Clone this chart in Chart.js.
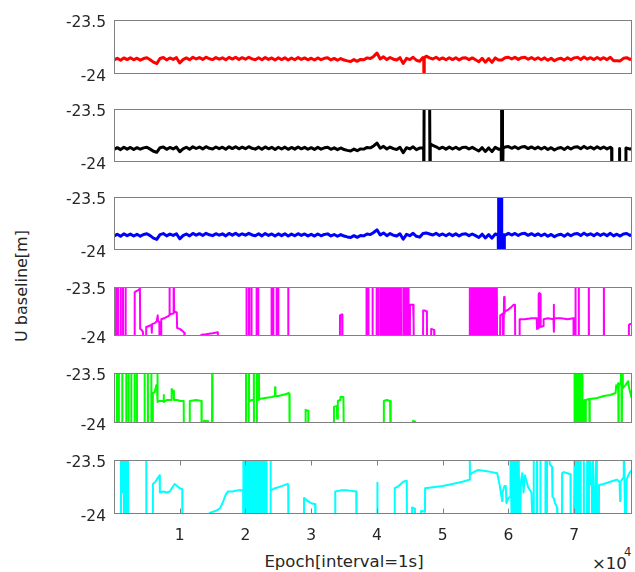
<!DOCTYPE html>
<html>
<head>
<meta charset="utf-8">
<script src="https://cdn.jsdelivr.net/npm/chart.js@4.4.1/dist/chart.umd.min.js"></script>
<style>
  html, body { margin: 0; padding: 0; background: #fff; }
  #fig { position: relative; width: 635px; height: 572px; overflow: hidden; font-family: "DejaVu Sans", sans-serif; color: #262626; }
  #fig canvas { position: absolute; left: 0; }
  .lbl { position: absolute; white-space: nowrap; line-height: 1; }
</style>
</head>
<body>
<div id="fig">
  <div class="lbl" id="ylab" style="left:22px;top:286px;font-size:16px;transform:translate(-50%,-50%) rotate(-90deg);">U baseline[m]</div>
  <div class="lbl" id="xlab" style="left:344px;top:562px;font-size:16.5px;transform:translate(-50%,-50%);">Epoch[interval=1s]</div>
  <div class="lbl" style="left:592px;top:556px;font-size:16.5px;">×10</div>
  <div class="lbl" style="left:624px;top:547px;font-size:11.5px;">4</div>
</div>
<script>
// x axis: epochs, shared by all six panels
const X_MIN = 0, X_MAX = 78800;
const X_TICKS = [10000, 20000, 30000, 40000, 50000, 60000, 70000];
const X_TICK_LABELS = ['1', '2', '3', '4', '5', '6', '7'];
const Y_TICKS = [-24, -23.5];
const Y_TICK_LABELS = ['-24', '-23.5'];

// epoch grid used by the three continuous solutions
const EPOCH_GRID = [
  0, 500, 1000, 1500, 2000, 2500, 3000, 3500, 4000, 4500,
  5000, 5500, 6000, 6500, 7000, 7500, 8000, 8500, 9000, 9500,
  10000, 10500, 11000, 11500, 12000, 12500, 13000, 13500, 14000, 14500,
  15000, 15500, 16000, 16500, 17000, 17500, 18000, 18500, 19000, 19500,
  20000, 20500, 21000, 21500, 22000, 22500, 23000, 23500, 24000, 24500,
  25000, 25500, 26000, 26500, 27000, 27500, 28000, 28500, 29000, 29500,
  30000, 30500, 31000, 31500, 32000, 32500, 33000, 33500, 34000, 34500,
  35000, 35500, 36000, 36500, 37000, 37500, 38000, 38500, 39000, 39500,
  40000, 40500, 41000, 41500, 42000, 42500, 43000, 43500, 44000, 44500,
  45000, 45500, 46000, 46500, 47000, 47500, 48000, 48500, 49000, 49500,
  50000, 50500, 51000, 51500, 52000, 52500, 53000, 53500, 54000, 54500,
  55000, 55500, 56000, 56500, 57000, 57500, 58000, 58500, 59000, 59500,
  60000, 60500, 61000, 61500, 62000, 62500, 63000, 63500, 64000, 64500,
  65000, 65500, 66000, 66500, 67000, 67500, 68000, 68500, 69000, 69500,
  70000, 70500, 71000, 71500, 72000, 72500, 73000, 73500, 74000, 74500,
  75000, 75500, 76000, 76500, 77000, 77500, 78000, 78500
];

// panel 1 (red)
const RED_U = [
  -23.872, -23.856, -23.874, -23.852, -23.868, -23.850, -23.870, -23.855, -23.873, -23.858,
  -23.851, -23.869, -23.892, -23.905, -23.858, -23.848, -23.871, -23.853, -23.866, -23.850,
  -23.900, -23.868, -23.852, -23.870, -23.846, -23.862, -23.849, -23.866, -23.845, -23.860,
  -23.868, -23.849, -23.864, -23.851, -23.870, -23.847, -23.863, -23.846, -23.866, -23.850,
  -23.864, -23.846, -23.861, -23.869, -23.850, -23.870, -23.848, -23.866, -23.852, -23.872,
  -23.851, -23.868, -23.850, -23.871, -23.853, -23.869, -23.849, -23.866, -23.852, -23.870,
  -23.855, -23.872, -23.852, -23.869, -23.856, -23.851, -23.871, -23.857, -23.874, -23.858,
  -23.872, -23.880, -23.886, -23.868, -23.884, -23.866, -23.870, -23.852, -23.858, -23.838,
  -23.806, -23.862, -23.842, -23.868, -23.848, -23.864, -23.872, -23.850, -23.904, -23.856,
  -23.868, -23.846, -23.874, -23.884, -23.848, -23.836, -23.852, -23.862, -23.846, -23.866,
  -23.852, -23.869, -23.850, -23.868, -23.851, -23.871, -23.854, -23.850, -23.868, -23.852,
  -23.870, -23.888, -23.856, -23.892, -23.858, -23.894, -23.852, -23.872, -23.872, -23.850,
  -23.846, -23.862, -23.847, -23.866, -23.850, -23.846, -23.865, -23.849, -23.867, -23.851,
  -23.869, -23.852, -23.874, -23.856, -23.878, -23.862, -23.855, -23.873, -23.851, -23.869,
  -23.852, -23.847, -23.867, -23.844, -23.864, -23.850, -23.868, -23.848, -23.866, -23.850,
  -23.868, -23.846, -23.878, -23.879, -23.880, -23.856, -23.850, -23.866
];
const RED_EXTRA_X = [47120, 47160, 47200, 78800];
const RED_EXTRA_U = [-23.858, -24.2, -23.850, -23.860];

// panel 2 (black)
const BLACK_U = [
  -23.882, -23.866, -23.885, -23.862, -23.880, -23.864, -23.884, -23.866, -23.881, -23.868,
  -23.862, -23.880, -23.900, -23.910, -23.866, -23.860, -23.882, -23.864, -23.878, -23.861,
  -23.905, -23.878, -23.862, -23.881, -23.858, -23.874, -23.860, -23.878, -23.857, -23.872,
  -23.879, -23.860, -23.876, -23.862, -23.881, -23.858, -23.875, -23.857, -23.877, -23.861,
  -23.876, -23.857, -23.872, -23.880, -23.861, -23.882, -23.859, -23.877, -23.863, -23.883,
  -23.862, -23.879, -23.861, -23.882, -23.864, -23.880, -23.860, -23.877, -23.863, -23.881,
  -23.866, -23.883, -23.863, -23.880, -23.867, -23.862, -23.882, -23.868, -23.885, -23.869,
  -23.884, -23.892, -23.898, -23.880, -23.895, -23.878, -23.880, -23.864, -23.868, -23.850,
  -23.822, -23.872, -23.854, -23.879, -23.860, -23.875, -23.883, -23.862, -23.915, -23.866,
  -23.878, -23.858, -23.885, -23.870, -23.870, -23.2, -23.2, -23.845, -23.858, -23.876,
  -23.862, -23.880, -23.861, -23.879, -23.862, -23.882, -23.865, -23.861, -23.879, -23.863,
  -23.881, -23.898, -23.866, -23.902, -23.868, -23.904, -23.862, -23.882, -23.2, -23.860,
  -23.856, -23.872, -23.857, -23.876, -23.860, -23.856, -23.875, -23.859, -23.877, -23.861,
  -23.879, -23.862, -23.884, -23.866, -23.888, -23.872, -23.865, -23.883, -23.861, -23.879,
  -23.862, -23.857, -23.877, -23.854, -23.874, -23.860, -23.878, -23.858, -23.876, -23.860,
  -23.878, -23.862, -24.3, -24.3, -24.3, -24.3, -23.870, -23.880
];
const BLACK_EXTRA_X = [47100, 47140, 47180, 48060, 48080, 48110, 58900, 58930, 58960, 59030, 59060, 59090,
  59120, 59150, 59180, 75700, 75740, 76870, 76900, 76930, 77850, 77880, 78800];
const BLACK_EXTRA_U = [-23.870, -24.3, -23.2, -23.2, -24.3, -23.83, -23.875, -24.3, -23.2, -24.3, -23.2, -24.3,
  -23.2, -24.3, -23.870, -23.872, -24.3, -24.3, -23.875, -24.3, -24.3, -23.870, -23.872];

// panel 3 (blue)
const BLUE_U = [
  -23.870, -23.852, -23.872, -23.849, -23.866, -23.851, -23.869, -23.853, -23.871, -23.855,
  -23.848, -23.866, -23.890, -23.902, -23.856, -23.846, -23.868, -23.851, -23.864, -23.848,
  -23.896, -23.866, -23.850, -23.868, -23.845, -23.861, -23.847, -23.864, -23.844, -23.858,
  -23.866, -23.847, -23.862, -23.849, -23.868, -23.845, -23.861, -23.844, -23.864, -23.848,
  -23.862, -23.844, -23.859, -23.867, -23.848, -23.868, -23.846, -23.864, -23.850, -23.870,
  -23.849, -23.866, -23.848, -23.869, -23.851, -23.867, -23.847, -23.864, -23.850, -23.868,
  -23.853, -23.870, -23.850, -23.867, -23.854, -23.849, -23.869, -23.855, -23.872, -23.856,
  -23.870, -23.878, -23.884, -23.866, -23.882, -23.864, -23.868, -23.850, -23.856, -23.836,
  -23.810, -23.860, -23.840, -23.866, -23.846, -23.862, -23.870, -23.848, -23.900, -23.854,
  -23.866, -23.844, -23.872, -23.880, -23.846, -23.840, -23.850, -23.860, -23.844, -23.864,
  -23.850, -23.867, -23.848, -23.866, -23.849, -23.869, -23.852, -23.848, -23.866, -23.850,
  -23.866, -23.884, -23.852, -23.888, -23.856, -23.890, -23.850, -23.2, -24.3, -23.862,
  -23.844, -23.860, -23.845, -23.864, -23.848, -23.844, -23.863, -23.847, -23.865, -23.849,
  -23.867, -23.850, -23.872, -23.854, -23.876, -23.860, -23.853, -23.871, -23.849, -23.867,
  -23.850, -23.845, -23.865, -23.842, -23.862, -23.848, -23.866, -23.846, -23.864, -23.848,
  -23.866, -23.844, -23.868, -23.852, -23.870, -23.850, -23.846, -23.864
];
const BLUE_EXTRA_X = [58450, 58480, 58560, 58620, 58680, 58740, 58800, 58860, 58920, 58960,
  59040, 59300, 59340, 59380, 78800];
const BLUE_EXTRA_U = [-23.860, -24.3, -24.3, -23.2, -24.3, -23.2, -24.3, -23.2, -24.3, -23.2,
  -23.850, -23.868, -24.1, -23.858, -23.856];

// panel 4 (magenta)
const MAG_X = [
  0, 300, 335, 380, 560, 590, 640, 960,
  990, 1040, 1320, 1350, 1400, 1720, 1750, 1800,
  3100, 3150, 3400, 3700, 3850, 3890, 3950, 3980,
  4200, 4400, 4500, 4880, 4900, 5300, 5700, 5750,
  5800, 6200, 6500, 6650, 6700, 6900, 6940, 7170,
  7190, 7600, 7900, 8200, 8400, 8440, 8480, 9000,
  9040, 9100, 9150, 9550, 9600, 10000, 10400, 10700,
  10750, 13250, 13290, 14000, 14500, 15000, 15800, 15850,
  20120, 20150, 20180, 20520, 20550, 20580,
  20880, 20910, 20940, 21650, 21680, 21710,
  21890, 21920, 21950, 23930, 23960, 23990,
  24180, 24210, 24240, 24700, 24730, 24760,
  24940, 24970, 25000, 26470, 26500, 26530,
  34350, 34380, 34700, 34750,
  38370, 38400, 38430, 38670, 38700, 38730, 39300, 39330, 39360,
  39910, 39940, 39970, 40220, 40250, 40280, 40570, 40600, 40630,
  40820, 40850, 40900, 41100, 41130, 41160, 41300, 41330, 41360,
  41520, 41550, 41600, 41780, 41800, 41830, 41970, 42000, 42030,
  42220, 42250, 42300, 42480, 42500, 42530, 42670, 42700, 42730,
  42920, 42950, 43000, 43170, 43200, 43230, 43420, 43450, 43480,
  43610, 43640, 43670, 43970, 44000, 44030, 44240, 44270, 44300,
  44510, 44540, 44570, 44760, 44790, 44820,
  45000, 45030, 45500, 45550, 45600, 45650,
  47000, 47030, 47300, 47600, 47640, 48230, 48250, 48700, 48730,
  54100, 54130, 54160, 54420, 54450, 54480, 54700, 54730, 54760,
  54900, 54930, 54960, 55150, 55180, 55210, 55400, 55430, 55460,
  55650, 55680, 55710, 55900, 55930, 55960, 56100, 56130, 56160,
  56300, 56330, 56360, 56500, 56530, 56560, 56700, 56730, 56760,
  56900, 56930, 56960, 57100, 57130, 57160, 57300, 57330, 57360,
  57500, 57530, 57560, 57700, 57730, 57760, 57900, 57930, 57960,
  58100, 58130, 58160, 58230, 58260, 58290,
  58700, 58760, 59000, 59150, 59200, 59300, 59340, 59400, 59450,
  60000, 60500, 60800, 61000, 61050, 61680, 61710, 62500, 63500,
  64300, 64350, 64550, 64600, 64700, 64860, 64900, 65300, 65350,
  66000, 66850, 66900, 66930, 66970, 68000, 69000, 69900, 69940,
  70170, 70200, 70230, 70670, 70700, 70730, 72200, 72230, 72260,
  74490, 74520, 74550, 78300, 78330, 78500, 78800
];
const MAG_U = [
  -24.3, -24.3, -23.2, -24.3, -24.3, -23.2, -24.3, -24.3,
  -23.2, -24.3, -24.3, -23.2, -24.3, -24.3, -23.2, -24.3,
  -24.3, -23.55, -23.54, -23.53, -23.52, -23.2, -23.2, -23.93,
  -23.94, -23.96, -24.3, -24.3, -23.91, -23.90, -23.89, -23.97,
  -23.88, -23.87, -23.85, -23.79, -23.85, -23.86, -24.3, -24.3,
  -23.83, -23.82, -23.81, -23.80, -23.79, -23.2, -23.78, -23.77,
  -23.2, -23.2, -23.75, -23.76, -23.92, -23.93, -23.95, -23.97,
  -24.3, -24.3, -23.99, -23.985, -23.98, -23.975, -23.965, -24.3,
  -24.3, -23.2, -24.3, -24.3, -23.2, -24.3,
  -24.3, -23.2, -24.3, -24.3, -23.2, -24.3,
  -24.3, -23.2, -24.3, -24.3, -23.2, -24.3,
  -24.3, -23.2, -24.3, -24.3, -23.2, -24.3,
  -24.3, -23.2, -24.3, -24.3, -23.2, -24.3,
  -24.3, -23.79, -23.78, -24.3,
  -24.3, -23.2, -24.3, -24.3, -23.2, -24.3, -24.3, -23.2, -24.3,
  -24.3, -23.2, -24.3, -24.3, -23.2, -24.3, -24.3, -23.2, -24.3,
  -24.3, -23.2, -23.82, -23.84, -23.2, -24.3, -24.3, -23.2, -24.3,
  -24.3, -23.2, -23.88, -23.90, -23.2, -24.3, -24.3, -23.2, -24.3,
  -24.3, -23.2, -23.86, -23.87, -23.2, -24.3, -24.3, -23.2, -24.3,
  -24.3, -23.2, -23.92, -23.93, -23.2, -24.3, -24.3, -23.2, -24.3,
  -24.3, -23.2, -24.3, -24.3, -23.2, -24.3, -24.3, -23.2, -24.3,
  -24.3, -23.2, -24.3, -24.3, -23.2, -24.3,
  -24.3, -23.68, -23.68, -23.83, -23.85, -24.3,
  -24.3, -23.74, -23.74, -23.75, -24.3, -24.3, -23.93, -23.94, -24.3,
  -24.3, -23.2, -24.3, -24.3, -23.2, -24.3, -24.3, -23.2, -24.3,
  -24.3, -23.2, -24.3, -24.3, -23.2, -24.3, -24.3, -23.2, -24.3,
  -24.3, -23.2, -24.3, -24.3, -23.2, -24.3, -24.3, -23.2, -24.3,
  -24.3, -23.2, -24.3, -24.3, -23.2, -24.3, -24.3, -23.2, -24.3,
  -24.3, -23.2, -24.3, -24.3, -23.2, -24.3, -24.3, -23.2, -24.3,
  -24.3, -23.2, -24.3, -24.3, -23.2, -24.3, -24.3, -23.2, -24.3,
  -24.3, -23.2, -24.3, -24.3, -23.2, -24.3,
  -24.3, -23.79, -23.78, -23.77, -24.3, -24.3, -23.6, -23.77, -23.75,
  -23.73, -23.70, -23.68, -23.68, -24.3, -24.3, -23.83, -23.83, -23.82,
  -23.82, -23.93, -23.92, -23.57, -23.56, -23.57, -23.91, -23.90, -23.83,
  -23.82, -23.83, -23.68, -23.96, -23.82, -23.82, -23.83, -23.82, -24.3,
  -24.3, -23.2, -24.3, -24.3, -23.2, -24.3, -24.3, -23.2, -24.3,
  -24.3, -23.2, -24.3, -24.3, -23.89, -23.88, -23.88
];

// panel 5 (green)
const GRN_X = [
  0, 400, 430, 460, 700, 730, 760, 1220,
  1250, 1280, 1830, 1860, 1890, 2180, 2210, 2240,
  2590, 2620, 2650, 3100, 3130, 3160, 3450, 3480, 3510,
  4620, 4650, 4680, 5120, 5150, 5180, 5640, 5670, 5700,
  5890, 5910, 6200, 6430, 6550, 6600, 6650, 6940,
  7500, 7550, 7600, 8000, 8700, 8770, 9070, 9120,
  9600, 10100, 10600, 10650, 11500, 11530, 12500, 13300,
  13340, 13650, 13670, 14300, 14330, 14900, 14940, 14990,
  20050, 20080, 20110, 20470, 20500, 20560, 21000, 21240, 21270,
  21300, 21690, 21720, 21750, 22000, 22030, 22080, 23000, 24000,
  24480, 24510, 24560, 25000, 25600, 26200, 26600, 26680, 26720,
  29130, 29150, 29550, 29570, 33440, 33460, 33900, 33950, 34050,
  34400, 34450, 34900, 34990, 41030, 41050, 41500, 42000, 42100,
  45480, 45500, 45800, 45820,
  70020, 70050, 70080, 70170, 70200, 70230, 70320, 70350, 70380,
  70470, 70500, 70530, 70620, 70650, 70680, 70770, 70800, 70830,
  70920, 70950, 70980, 71070, 71100, 71130, 71220, 71250, 71280,
  71390, 71420, 71700, 71750, 71800, 72300, 72350, 72400, 73500,
  74500, 75500, 76300, 76400, 76600, 76700, 76750, 76800, 77100,
  77150, 77250, 77300, 77400, 77800, 78200, 78400, 78700, 78800
];
const GRN_U = [
  -24.3, -24.3, -23.2, -24.3, -24.3, -23.2, -24.3, -24.3,
  -23.2, -24.3, -24.3, -23.2, -24.3, -24.3, -23.2, -24.3,
  -24.3, -23.2, -24.3, -24.3, -23.2, -24.3, -24.3, -23.2, -24.3,
  -24.3, -23.2, -24.3, -24.3, -23.2, -24.3, -24.3, -23.2, -24.3,
  -24.3, -23.70, -23.69, -23.62, -23.66, -23.2, -23.79, -23.78,
  -23.78, -23.72, -23.79, -23.77, -23.77, -23.66, -23.68, -23.77,
  -23.77, -23.78, -23.78, -24.3, -24.3, -23.78, -23.77, -23.78,
  -24.3, -24.3, -23.98, -23.985, -24.3, -24.3, -23.2, -24.3,
  -24.3, -23.2, -24.3, -24.3, -23.2, -23.78, -23.77, -23.77, -23.2,
  -24.3, -24.3, -23.2, -23.77, -23.77, -23.2, -23.76, -23.75, -23.74,
  -23.73, -23.64, -23.73, -23.73, -23.72, -23.71, -23.70, -23.71, -24.3,
  -24.3, -23.87, -23.88, -24.3, -24.3, -23.84, -23.83, -23.96, -23.78,
  -23.77, -23.74, -23.74, -24.3, -24.3, -23.78, -23.77, -23.78, -24.3,
  -24.3, -23.98, -23.99, -24.3,
  -24.3, -23.2, -24.3, -24.3, -23.2, -24.3, -24.3, -23.2, -24.3,
  -24.3, -23.2, -24.3, -24.3, -23.2, -24.3, -24.3, -23.2, -24.3,
  -24.3, -23.2, -24.3, -24.3, -23.2, -24.3, -24.3, -23.2, -24.3,
  -24.3, -23.78, -23.77, -24.3, -23.77, -23.76, -24.3, -23.76, -23.75,
  -23.73, -23.72, -23.70, -23.62, -23.64, -23.60, -24.3, -23.62, -23.60,
  -23.2, -24.3, -23.2, -23.65, -23.62, -23.58, -23.66, -23.74, -23.74
];

// panel 6 (cyan)
const CYN_X = [
  0, 1050, 1080, 1200, 1400, 1430, 1550, 1650,
  1750, 1850, 1950, 2100, 2200, 2300, 4870, 4900, 4930,
  5900, 5920, 6300, 6700, 6940, 6980, 7500, 8000, 8500,
  8700, 9220, 9600, 9980, 10380, 10400, 14540, 14560, 15500,
  16080, 16500, 17000, 17350, 18000, 18800, 19640, 19670, 19700,
  19870, 19900, 19930, 20120, 20150, 20180, 20370, 20400, 20430,
  20620, 20650, 20680, 20870, 20900, 20930, 21120, 21150, 21180,
  21370, 21400, 21430, 21620, 21650, 21680, 21870, 21900, 21930,
  22120, 22150, 22180, 22370, 22400, 22430, 22620, 22650, 22680,
  22870, 22900, 22930, 23170, 23200, 23230, 23780, 23810, 23860,
  24500, 25500, 26450, 26500, 26530, 28870, 28900, 29500, 30000,
  30600, 30650, 33630, 33660, 34500, 35500, 36850, 36900, 40030,
  40060, 40090, 42680, 42710, 43300, 44000, 44540, 44580, 45330,
  45350, 45780, 45800, 46700, 46720, 47300, 47330, 48500, 50000,
  51500, 53000, 54100, 54130, 54160, 54400, 55400, 56500, 57500,
  58300, 58700, 59050, 59100, 59400, 59600, 59700, 60000, 60290,
  60320, 60520, 60720, 60920, 61120, 61320, 61520, 61720, 61900,
  62100, 62300, 62500, 62880, 63000, 63500, 63810, 63840, 63870,
  64320, 64350, 64380, 64830, 64860, 64890, 65590, 65620, 65650,
  65850, 65880, 66300, 66640, 66700, 66890, 67100, 67410, 67450,
  68140, 68170, 68400, 69000, 69440, 69480, 69940, 70100, 70250,
  70400, 70550, 70700, 70850, 70960, 71000, 71440, 71470, 71500,
  71950, 71980, 72010, 72240, 72270, 72500, 72700, 72740, 72780,
  73100, 73400, 73460, 73750, 73780, 74500, 75500, 76500, 76900,
  77000, 77050, 77500, 77550, 77800, 78000, 78100, 78400, 78800
];
const CYN_U = [
  -24.3, -24.3, -23.2, -23.80, -23.80, -23.2, -24.3, -23.2,
  -24.3, -23.2, -24.3, -23.2, -24.3, -24.3, -24.3, -23.2, -24.3,
  -24.3, -23.72, -23.70, -23.66, -23.64, -23.80, -23.79, -23.80, -23.79,
  -23.77, -23.72, -23.74, -23.76, -23.77, -24.3, -24.3, -23.99, -23.97,
  -23.95, -23.90, -23.82, -23.79, -23.79, -23.78, -23.78, -23.2, -24.3,
  -24.3, -23.2, -24.3, -24.3, -23.2, -24.3, -24.3, -23.2, -24.3,
  -24.3, -23.2, -24.3, -24.3, -23.2, -24.3, -24.3, -23.2, -24.3,
  -24.3, -23.2, -24.3, -24.3, -23.2, -24.3, -24.3, -23.2, -24.3,
  -24.3, -23.2, -24.3, -24.3, -23.2, -24.3, -24.3, -23.2, -24.3,
  -24.3, -23.2, -24.3, -24.3, -23.2, -24.3, -24.3, -23.2, -23.78,
  -23.76, -23.74, -23.72, -23.73, -24.3, -24.3, -23.85, -23.88, -23.90,
  -23.91, -24.3, -24.3, -23.79, -23.78, -23.78, -23.79, -24.3, -24.3,
  -23.71, -24.3, -24.3, -23.76, -23.74, -23.70, -23.69, -24.3, -24.3,
  -23.94, -23.95, -24.3, -24.3, -23.97, -23.98, -23.76, -23.75, -23.74,
  -23.72, -23.70, -23.68, -23.51, -23.64, -23.62, -23.59, -23.60, -23.61,
  -23.62, -23.74, -23.88, -23.80, -23.74, -23.74, -23.90, -23.85, -23.84,
  -23.2, -24.3, -23.2, -24.3, -23.2, -24.3, -23.2, -24.3, -23.70,
  -23.62, -23.80, -23.64, -23.72, -23.75, -23.80, -24.3, -23.2, -24.3,
  -24.3, -23.2, -24.3, -24.3, -23.2, -24.3, -24.3, -23.2, -24.3,
  -24.3, -23.2, -23.54, -23.56, -23.84, -23.85, -23.90, -23.94, -24.3,
  -24.3, -23.62, -23.61, -23.62, -23.63, -24.3, -24.3, -23.2, -24.3,
  -23.2, -24.3, -23.2, -24.3, -23.2, -24.3, -24.3, -23.2, -24.3,
  -24.3, -23.2, -24.3, -24.3, -23.2, -23.72, -23.74, -24.3, -23.2,
  -24.3, -23.2, -24.3, -24.3, -23.73, -23.72, -23.70, -23.68, -23.70,
  -23.88, -23.70, -23.66, -23.2, -24.3, -23.68, -23.66, -23.62, -23.59
];

const COLORS = ['#ff0000', '#000000', '#0000ff', '#ff00ff', '#00ff00', '#00ffff'];
const LINE_W = [3, 3, 3, 2, 2, 2];

// layout of the six axes boxes (pixels in the figure)
const BOX_TOPS = [17, 106, 194, 284, 370, 457];
const BOX_BOTTOMS = [77, 165, 253, 339, 426, 514];
const PAD = 14, X_AXIS_H = 40, Y_AXIS_W = 114;

function toPoints(xs, us) {
  if (xs.length !== us.length) throw new Error('length mismatch ' + xs.length + ' vs ' + us.length);
  return xs.map((x, i) => ({ x: x, y: us[i] }));
}
function withExtras(gridU, exX, exU) {
  return toPoints(EPOCH_GRID, gridU).concat(toPoints(exX, exU)).sort((a, b) => a.x - b.x);
}

const SERIES = [
  withExtras(RED_U, RED_EXTRA_X, RED_EXTRA_U),
  withExtras(BLACK_U, BLACK_EXTRA_X, BLACK_EXTRA_U),
  withExtras(BLUE_U, BLUE_EXTRA_X, BLUE_EXTRA_U),
  toPoints(MAG_X, MAG_U),
  toPoints(GRN_X, GRN_U),
  toPoints(CYN_X, CYN_U)
];

// axes box + inner x ticks, matlab style
const boxPlugin = {
  id: 'box',
  afterDatasetsDraw(chart) {
    const ctx = chart.ctx, a = chart.chartArea;
    ctx.save();
    ctx.strokeStyle = '#808080';
    ctx.lineWidth = 1;
    const l = Math.round(a.left) + 0.5, t = Math.round(a.top) + 0.5;
    const r = Math.round(a.right) - 0.5, b = Math.round(a.bottom) - 0.5;
    ctx.strokeRect(l, t, r - l, b - t);
    if (chart.options.scales.x.display) {
      ctx.beginPath();
      X_TICKS.forEach(v => {
        const px = Math.round(chart.scales.x.getPixelForValue(v)) + 0.5;
        ctx.moveTo(px, t); ctx.lineTo(px, t + 5);
        ctx.moveTo(px, b); ctx.lineTo(px, b - 5);
      });
      ctx.stroke();
    }
    ctx.restore();
  }
};

const tickFont = { family: '"DejaVu Sans", sans-serif', size: 15.5 };
const fig = document.getElementById('fig');

SERIES.forEach((pts, i) => {
  const last = i === SERIES.length - 1;
  const h = (BOX_BOTTOMS[i] - BOX_TOPS[i]) + PAD + (last ? X_AXIS_H : PAD);
  const cv = document.createElement('canvas');
  cv.width = 635; cv.height = h;
  cv.style.width = '635px'; cv.style.height = h + 'px';
  cv.style.top = (BOX_TOPS[i] - PAD) + 'px';
  fig.appendChild(cv);

  new Chart(cv, {
    type: 'line',
    data: {
      datasets: [{
        data: pts,
        borderColor: COLORS[i],
        borderWidth: LINE_W[i],
        borderJoinStyle: 'round',
        pointRadius: 0,
        tension: 0,
        fill: false
      }]
    },
    options: {
      responsive: false,
      animation: false,
      events: [],
      layout: { padding: { top: PAD, bottom: last ? 0 : PAD, left: 0, right: 3 } },
      plugins: { legend: { display: false }, tooltip: { enabled: false } },
      scales: {
        x: {
          type: 'linear',
          min: X_MIN, max: X_MAX,
          display: last,
          grid: { display: false, drawTicks: false },
          border: { display: false },
          afterBuildTicks: s => { s.ticks = X_TICKS.map(v => ({ value: v })); },
          afterFit: s => { s.height = last ? X_AXIS_H : 0; },
          ticks: {
            autoSkip: false, maxRotation: 0, padding: 13,
            color: '#262626', font: tickFont,
            callback: (v, idx) => X_TICK_LABELS[idx]
          }
        },
        y: {
          type: 'linear',
          min: Y_TICKS[0], max: Y_TICKS[1],
          grid: { display: false, drawTicks: false },
          border: { display: false },
          afterBuildTicks: s => { s.ticks = Y_TICKS.map(v => ({ value: v })); },
          afterFit: s => { s.width = Y_AXIS_W; },
          ticks: {
            padding: 8, labelOffset: 3,
            color: '#262626', font: tickFont,
            callback: (v, idx) => Y_TICK_LABELS[idx]
          }
        }
      }
    },
    plugins: [boxPlugin]
  });
});
</script>
</body>
</html>
